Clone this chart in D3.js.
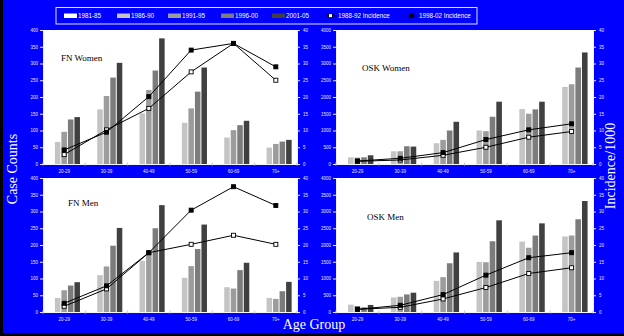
<!DOCTYPE html>
<html>
<head>
<meta charset="utf-8">
<script src="https://cdn.jsdelivr.net/npm/d3@7"></script>
<style>
  html, body { margin: 0; padding: 0; background: #0000ff; }
  svg { display: block; }
</style>
</head>
<body>
<svg id="chart" width="624" height="336"></svg>
<script>
// ---- data ----
const ageGroups = ["20-29", "30-39", "40-49", "50-59", "60-69", "70+"];
const periods = ["1981-85", "1986-90", "1991-95", "1996-00", "2001-05"];
const incidenceLabels = ["1988-92 Incidence", "1998-02 Incidence"];
const countTicksFN = [0, 50, 100, 150, 200, 250, 300, 350, 400];
const countTicksOSK = [0, 500, 1000, 1500, 2000, 2500, 3000, 3500, 4000];
const rateTicks = [0, 5, 10, 15, 20, 25, 30, 35, 40];

// case counts, one row per period (1981-85 ... 2001-05)
const fnWomenCounts = [
  [52, 128, 118, 95, 62, 38],
  [66, 163, 151, 123, 79, 49],
  [96, 203, 221, 166, 101, 60],
  [133, 258, 279, 216, 116, 67],
  [140, 302, 375, 288, 129, 72]
];
const oskWomenCounts = [
  [170, 330, 540, 860, 1450, 2050],
  [200, 380, 620, 1000, 1640, 2300],
  [190, 380, 720, 980, 1500, 2380],
  [200, 530, 1000, 1410, 1630, 2880],
  [260, 520, 1260, 1860, 1860, 3330]
];
const fnMenCounts = [
  [35, 90, 130, 85, 60, 35],
  [42, 110, 153, 102, 74, 42],
  [65, 136, 175, 137, 70, 39],
  [79, 198, 250, 188, 125, 62],
  [89, 251, 319, 261, 147, 90]
];
const oskMenCounts = [
  [190, 380, 800, 1300, 1850, 2000],
  [220, 434, 929, 1495, 2101, 2253],
  [180, 455, 1040, 1485, 1919, 2283],
  [140, 525, 1455, 2111, 2283, 2768],
  [210, 576, 1778, 2737, 2646, 3313]
];

// incidence per 1000
const fnWomenRate8892 = [2.8, 10.2, 16.6, 27.5, 36.0, 25.0];
const fnWomenRate9802 = [4.2, 9.5, 20.1, 34.0, 36.0, 29.0];
const oskWomenRate8892 = [0.8, 1.2, 2.6, 5.0, 8.0, 9.7];
const oskWomenRate9802 = [0.9, 1.7, 3.4, 7.3, 10.2, 12.0];
const fnMenRate8892 = [1.7, 6.9, 17.7, 20.2, 22.9, 20.2];
const fnMenRate9802 = [2.6, 7.8, 17.7, 30.4, 37.4, 31.8];
const oskMenRate8892 = [0.8, 1.4, 3.9, 7.3, 11.5, 13.2];
const oskMenRate9802 = [0.8, 2.0, 5.2, 11.0, 16.2, 17.7];

// ---- styling ----
const BLUE = "#0000ff";
const barColors = ["#ffffff", "#c4c4c4", "#9c9c9c", "#7c7c7c", "#404040"];
const tickColor = "#e6e6ff";
const sans = "'Liberation Sans', Arial, sans-serif";
const serif = "'Liberation Serif', 'Times New Roman', serif";

const svg = d3.select("#chart");
svg.append("rect").attr("width", 624).attr("height", 336).attr("fill", BLUE);
svg.append("rect").attr("x", 0).attr("y", 0).attr("width", 3).attr("height", 336).attr("fill", "#000");
svg.append("rect").attr("x", 0).attr("y", 333).attr("width", 624).attr("height", 3).attr("fill", "#000");

const panels = [
  { title: "FN Women", counts: fnWomenCounts, r1: fnWomenRate8892, r2: fnWomenRate9802,
    ticks: countTicksFN, x0: 43, x1: 297, y0: 30, y1: 164, tx: 18, ty: 31 },
  { title: "OSK Women", counts: oskWomenCounts, r1: oskWomenRate8892, r2: oskWomenRate9802,
    ticks: countTicksOSK, x0: 336, x1: 593, y0: 30, y1: 164, tx: 26, ty: 41 },
  { title: "FN Men", counts: fnMenCounts, r1: fnMenRate8892, r2: fnMenRate9802,
    ticks: countTicksFN, x0: 43, x1: 297, y0: 178, y1: 312, tx: 25, ty: 28 },
  { title: "OSK Men", counts: oskMenCounts, r1: oskMenRate8892, r2: oskMenRate9802,
    ticks: countTicksOSK, x0: 336, x1: 593, y0: 178, y1: 312, tx: 31, ty: 42 }
];

panels.forEach(p => {
  const g = svg.append("g");
  const x = d3.scaleBand().domain(ageGroups).range([p.x0, p.x1]);
  const bw = x.bandwidth();
  const gap = bw * 0.115;
  const xs = d3.scaleBand().domain(periods).range([gap, bw - gap]);
  const yL = d3.scaleLinear().domain([0, p.ticks[p.ticks.length - 1]]).range([p.y1, p.y0]);
  const yR = d3.scaleLinear().domain([0, 40]).range([p.y1, p.y0]);

  // plot area
  g.append("rect").attr("x", p.x0).attr("y", p.y0)
    .attr("width", p.x1 - p.x0).attr("height", p.y1 - p.y0).attr("fill", "#fff");

  // bars
  periods.forEach((per, i) => {
    g.append("g").selectAll("rect")
      .data(ageGroups.map((a, j) => ({ a, v: p.counts[i][j] })))
      .join("rect")
      .attr("x", d => x(d.a) + xs(per) + 0.5)
      .attr("y", d => yL(d.v))
      .attr("width", xs.bandwidth() - 1)
      .attr("height", d => yL(0) - yL(d.v))
      .attr("fill", barColors[i]);
  });

  // left axis
  const ax = g.append("g").attr("transform", `translate(${p.x0},0)`)
    .call(d3.axisLeft(yL).tickValues(p.ticks).tickSize(3).tickPadding(2).tickFormat(d3.format("d")));
  // right axis
  const ar = g.append("g").attr("transform", `translate(${p.x1},0)`)
    .call(d3.axisRight(yR).tickValues(rateTicks).tickSize(3).tickPadding(3).tickFormat(d3.format("d")));
  [ax, ar].forEach(a => {
    a.select(".domain").attr("stroke", "#f0f0f0").attr("stroke-width", 1);
    a.selectAll(".tick line").attr("stroke", tickColor);
    a.selectAll(".tick text").attr("fill", tickColor).attr("font-size", 4.5).attr("font-family", sans);
  });

  // category axis
  const ab = g.append("g").attr("transform", `translate(0,${p.y1})`)
    .call(d3.axisBottom(x).tickSize(0).tickPadding(6));
  ab.select(".domain").attr("stroke", "#f4f4f4").attr("stroke-width", 1.2);
  ab.selectAll(".tick text").attr("fill", tickColor).attr("font-size", 4.5).attr("font-family", sans);
  const bounds = ageGroups.map(a => x(a)).concat([p.x1]);
  g.append("g").selectAll("line").data(bounds).join("line")
    .attr("x1", d => d).attr("x2", d => d)
    .attr("y1", p.y1 - 1.5).attr("y2", p.y1 + 1.5)
    .attr("stroke", "#c8c8c8").attr("stroke-width", 1);

  // incidence lines
  const cx = a => x(a) + bw / 2;
  [[p.r1, "#fff"], [p.r2, "#000"]].forEach(([rates, fill]) => {
    const pts = ageGroups.map((a, j) => [cx(a), yR(rates[j])]);
    g.append("path").attr("d", d3.line()(pts))
      .attr("fill", "none").attr("stroke", "#000").attr("stroke-width", 1);
    g.append("g").selectAll("rect").data(pts).join("rect")
      .attr("x", d => d[0] - 2).attr("y", d => d[1] - 2)
      .attr("width", 4).attr("height", 4)
      .attr("fill", fill).attr("stroke", "#000").attr("stroke-width", 0.9);
  });

  // panel title
  g.append("text").attr("x", p.x0 + p.tx).attr("y", p.y0 + p.ty)
    .attr("font-family", serif).attr("font-size", 9).attr("fill", "#000")
    .text(p.title);
});

// axis titles
svg.append("text").attr("transform", "translate(17,169) rotate(-90)")
  .attr("text-anchor", "middle").attr("font-family", serif).attr("font-size", 14)
  .attr("fill", "#fff").text("Case Counts");
svg.append("text").attr("transform", "translate(615,166) rotate(-90)")
  .attr("text-anchor", "middle").attr("font-family", serif).attr("font-size", 14)
  .attr("fill", "#fff").text("Incidence/1000");
svg.append("text").attr("x", 314).attr("y", 329)
  .attr("text-anchor", "middle").attr("font-family", serif).attr("font-size", 14)
  .attr("fill", "#fff").text("Age Group");

// legend
const lg = svg.append("g");
lg.append("rect").attr("x", 56).attr("y", 7.5).attr("width", 421).attr("height", 16.5)
  .attr("fill", BLUE).attr("stroke", "#e0e0ff").attr("stroke-width", 1);
const swatchX = [64, 117, 168, 221, 272];
periods.forEach((per, i) => {
  lg.append("rect").attr("x", swatchX[i]).attr("y", 13.5).attr("width", 13).attr("height", 4.5)
    .attr("fill", barColors[i]);
  lg.append("text").attr("x", swatchX[i] + 14).attr("y", 18).attr("font-family", sans)
    .attr("font-size", 6.3).attr("fill", "#fff").text(per);
});
const lineX = [324, 405];
incidenceLabels.forEach((lab, i) => {
  lg.append("line").attr("x1", lineX[i]).attr("x2", lineX[i] + 13).attr("y1", 15.7).attr("y2", 15.7)
    .attr("stroke", "#000").attr("stroke-width", 1);
  lg.append("rect").attr("x", lineX[i] + 4.5).attr("y", 13.7).attr("width", 4).attr("height", 4)
    .attr("fill", i === 0 ? "#fff" : "#000").attr("stroke", "#000").attr("stroke-width", 0.9);
  lg.append("text").attr("x", lineX[i] + 14).attr("y", 18).attr("font-family", sans)
    .attr("font-size", 6.3).attr("fill", "#fff").text(lab);
});
</script>
</body>
</html>
